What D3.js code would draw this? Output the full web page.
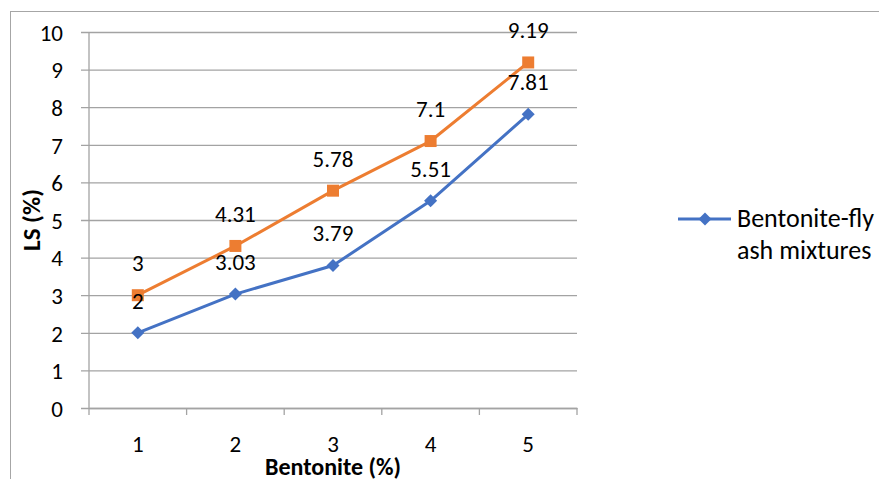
<!DOCTYPE html>
<html>
<head>
<meta charset="utf-8">
<script src="https://cdn.jsdelivr.net/npm/d3@7"></script>
<style>
  html, body { margin: 0; padding: 0; background: #fff; }
  svg { display: block; font-family: Carlito, Calibri, Lato, "Open Sans", sans-serif; }
</style>
</head>
<body>
<svg id="chart" width="879" height="479"></svg>
<script>
// Linear shrinkage against bentonite content
const categories = [1, 2, 3, 4, 5];
const mixtureLS = [2, 3.03, 3.79, 5.51, 7.81];
const secondLS = [3, 4.31, 5.78, 7.1, 9.19];
const yTicks = [0, 1, 2, 3, 4, 5, 6, 7, 8, 9, 10];
const legendLabel = ["Bentonite-fly", "ash mixtures"];

const blue = "#4472C4", orange = "#ED7D31", grid = "#a3a3a3";
const svg = d3.select("#chart");

// chart frame
svg.append("rect").attr("x", 10.5).attr("y", 11.5)
  .attr("width", 900).attr("height", 500)
  .attr("fill", "#fff").attr("stroke", "#a6a6a6").attr("stroke-width", 1);

const plotLeft = 89, plotRight = 577, plotTop = 32, plotBottom = 408;
const x = d3.scaleBand().domain(categories).range([plotLeft, plotRight]);
const y = d3.scaleLinear().domain([0, 10]).range([plotBottom, plotTop]);

// horizontal gridlines with short outer ticks
const yAxis = svg.append("g").attr("transform", `translate(${plotLeft},0)`)
  .call(d3.axisLeft(y).tickValues(yTicks).tickSize(-(plotRight - plotLeft)).tickSizeOuter(0).tickPadding(26))
  .attr("font-family", null).attr("font-size", 23);
yAxis.select(".domain").remove();
yAxis.selectAll(".tick line").attr("x1", -8).attr("stroke", grid).attr("stroke-width", 1.3);
yAxis.selectAll(".tick text").attr("fill", "#000").attr("dy", "0.36em");

// vertical axis line
svg.append("line").attr("x1", plotLeft).attr("x2", plotLeft).attr("y1", plotTop).attr("y2", plotBottom)
  .attr("stroke", grid).attr("stroke-width", 1.3);

// category axis
const xAxis = svg.append("g").attr("transform", `translate(0,${plotBottom})`)
  .call(d3.axisBottom(x).tickSize(0))
  .attr("font-family", null).attr("font-size", 23);
xAxis.select(".domain").attr("stroke", grid).attr("stroke-width", 1.3);
xAxis.selectAll(".tick text").attr("fill", "#000").attr("y", 44).attr("dy", 0);
// tick marks on category boundaries
const bounds = categories.map(c => x(c)).concat([plotRight]);
svg.append("g").selectAll("line").data(bounds).join("line")
  .attr("x1", d => d).attr("x2", d => d).attr("y1", plotBottom).attr("y2", plotBottom + 7)
  .attr("stroke", grid).attr("stroke-width", 1.3);

// axis titles
svg.append("text").attr("transform", `translate(40,${(plotTop + plotBottom) / 2}) rotate(-90)`)
  .attr("text-anchor", "middle").attr("font-size", 25).attr("font-weight", "bold").text("LS (%)");
svg.append("text").attr("x", x(3) + x.bandwidth() / 2).attr("y", 475)
  .attr("text-anchor", "middle").attr("font-size", 24).attr("font-weight", "bold").text("Bentonite (%)");

const cx = (d, i) => x(categories[i]) + x.bandwidth() / 2;
const line = d3.line().x(cx).y(d => y(d));

function drawSeries(vals, color, symbolType, size, rot) {
  svg.append("path").datum(vals).attr("d", line)
    .attr("fill", "none").attr("stroke", color).attr("stroke-width", 3).attr("stroke-linejoin", "round");
  svg.append("g").selectAll("path").data(vals).join("path")
    .attr("transform", (d, i) => `translate(${cx(d, i)},${y(d)}) rotate(${rot})`)
    .attr("d", d3.symbol().type(symbolType).size(size)).attr("fill", color);
}
drawSeries(secondLS, orange, d3.symbolSquare, 144, 0);
drawSeries(mixtureLS, blue, d3.symbolSquare, 85, 45);

// value labels above points
function drawLabels(vals) {
  svg.append("g").selectAll("text").data(vals).join("text")
    .attr("x", cx).attr("y", d => y(d) - 24)
    .attr("text-anchor", "middle").attr("font-size", 23).attr("fill", "#000")
    .text(d => d);
}
drawLabels(secondLS);
drawLabels(mixtureLS);

// legend
const lg = svg.append("g");
lg.append("line").attr("x1", 678).attr("x2", 731).attr("y1", 219).attr("y2", 219)
  .attr("stroke", blue).attr("stroke-width", 3);
lg.append("path").attr("transform", "translate(705,219) rotate(45)")
  .attr("d", d3.symbol().type(d3.symbolSquare).size(85)).attr("fill", blue);
lg.selectAll("text").data(legendLabel).join("text")
  .attr("x", 737).attr("y", (d, i) => 227 + i * 32)
  .attr("font-size", 26).attr("fill", "#000").text(d => d);
</script>
</body>
</html>
